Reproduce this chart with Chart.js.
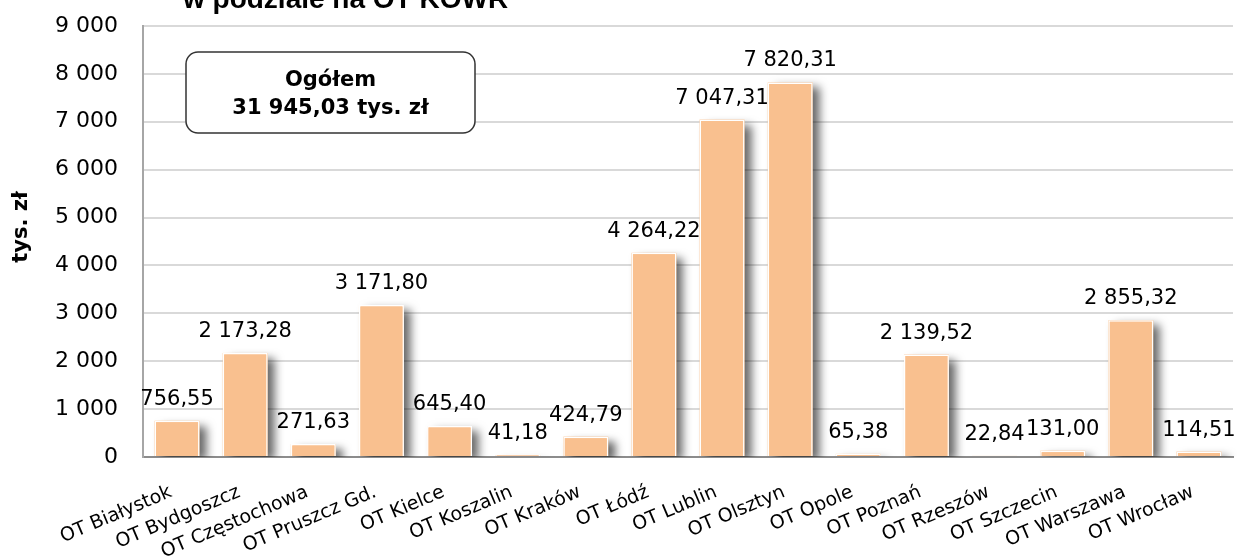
<!DOCTYPE html>
<html>
<head>
<meta charset="utf-8">
<script src="https://cdn.jsdelivr.net/npm/chart.js@4"></script>
<style>
  html, body { margin: 0; padding: 0; background: #fff; }
  #wrap { width: 1237px; height: 559px; position: relative; }
</style>
</head>
<body>
<div id="wrap"><canvas id="kowrChart"></canvas></div>
<script>
const categories = [
    'OT Białystok', 'OT Bydgoszcz', 'OT Częstochowa', 'OT Pruszcz Gd.',
    'OT Kielce', 'OT Koszalin', 'OT Kraków', 'OT Łódź',
    'OT Lublin', 'OT Olsztyn', 'OT Opole', 'OT Poznań',
    'OT Rzeszów', 'OT Szczecin', 'OT Warszawa', 'OT Wrocław'
];
const values = [
    756.55, 2173.28, 271.63, 3171.80,
    645.40, 41.18, 424.79, 4264.22,
    7047.31, 7820.31, 65.38, 2139.52,
    22.84, 131.00, 2855.32, 114.51
];
const totalValue = 31945.03;
const yTicks = [0, 1000, 2000, 3000, 4000, 5000, 6000, 7000, 8000, 9000];

const titleText = 'w podziale na OT KOWR';
const yAxisTitle = 'tys. zł';
const boxLine1 = 'Ogółem';

const FONT = "'DejaVu Sans', Verdana, sans-serif";
const BAR_COLOR = '#F9C08F';

// 1234,5 -> "1 234,50"
function fmtNum(v, decimals) {
    const parts = v.toFixed(decimals).split('.');
    const intPart = parts[0].replace(/\B(?=(\d{3})+(?!\d))/g, ' ');
    return parts[1] ? intPart + ',' + parts[1] : intPart;
}

// soft drop shadow behind every bar (the bar element clips its own drawing,
// so the shadow is painted separately underneath)
const barShadow = {
    id: 'barShadow',
    beforeDatasetsDraw(chart) {
        const ctx = chart.ctx;
        const area = chart.chartArea;
        const meta = chart.getDatasetMeta(0);
        ctx.save();
        ctx.beginPath();
        ctx.rect(area.left, area.top, area.right - area.left + 20, area.bottom - area.top);
        ctx.clip();
        ctx.shadowColor = 'rgba(0, 0, 0, 0.6)';
        ctx.shadowBlur = 9;
        ctx.shadowOffsetX = 7;
        ctx.shadowOffsetY = 5;
        ctx.fillStyle = BAR_COLOR;
        meta.data.forEach(bar => {
            const p = bar.getProps(['x', 'y', 'width', 'base'], true);
            ctx.fillRect(p.x - p.width / 2, p.y, p.width, p.base - p.y);
        });
        ctx.restore();
    }
};

const valueLabels = {
    id: 'valueLabels',
    afterDatasetsDraw(chart) {
        const ctx = chart.ctx;
        const meta = chart.getDatasetMeta(0);
        ctx.save();
        ctx.font = '21px ' + FONT;
        ctx.fillStyle = '#000';
        ctx.textAlign = 'center';
        ctx.textBaseline = 'alphabetic';
        meta.data.forEach((bar, i) => {
            ctx.fillText(fmtNum(values[i], 2), bar.x, bar.y - 16);
        });
        ctx.restore();
    }
};

const extras = {
    id: 'extras',
    afterDraw(chart) {
        const ctx = chart.ctx;
        ctx.save();

        // heading, mostly above the canvas top
        ctx.font = "bold 28px 'Liberation Sans', Arial, sans-serif";
        ctx.fillStyle = '#000';
        ctx.textAlign = 'left';
        ctx.textBaseline = 'alphabetic';
        ctx.fillText(titleText, 183, 8);

        // y axis unit
        ctx.save();
        ctx.translate(22, 227);
        ctx.rotate(-Math.PI / 2);
        ctx.font = 'bold 21px ' + FONT;
        ctx.textAlign = 'center';
        ctx.textBaseline = 'middle';
        ctx.fillText(yAxisTitle, 0, 0);
        ctx.restore();

        // total box
        const x = 186, y = 52, w = 289, h = 81, r = 12;
        ctx.beginPath();
        ctx.roundRect(x, y, w, h, r);
        ctx.fillStyle = '#fff';
        ctx.fill();
        ctx.lineWidth = 1.5;
        ctx.strokeStyle = '#333';
        ctx.stroke();

        ctx.fillStyle = '#000';
        ctx.font = 'bold 21px ' + FONT;
        ctx.textAlign = 'center';
        ctx.textBaseline = 'middle';
        ctx.fillText(boxLine1, x + w / 2, y + 29);
        ctx.fillText(fmtNum(totalValue, 2) + ' tys. zł', x + w / 2, y + 57);
        ctx.restore();
    }
};

new Chart(document.getElementById('kowrChart'), {
    type: 'bar',
    data: {
        labels: categories,
        datasets: [{
            data: values,
            backgroundColor: BAR_COLOR,
            borderColor: '#ffffff',
            borderWidth: 1.5,
            barPercentage: 0.66,
            categoryPercentage: 1
        }]
    },
    options: {
        responsive: true,
        maintainAspectRatio: false,
        animation: false,
        layout: { padding: { top: 26, right: 4, left: 0, bottom: 0 } },
        plugins: {
            legend: { display: false },
            tooltip: { enabled: false }
        },
        scales: {
            x: {
                grid: { display: false, drawTicks: false },
                border: { display: true, color: '#8c8c8c', width: 2 },
                ticks: {
                    color: '#000',
                    font: { family: FONT, size: 19 },
                    minRotation: 23,
                    maxRotation: 23,
                    padding: 24,
                    labelOffset: -6,
                    autoSkip: false
                },
                afterFit(scale) {
                    scale.height = 102;
                    scale.paddingLeft = 0;
                    scale.paddingRight = 0;
                }
            },
            y: {
                min: 0,
                max: 9000,
                afterBuildTicks(scale) {
                    scale.ticks = yTicks.map(v => ({ value: v }));
                },
                grid: { color: '#d9d9d9', lineWidth: 2, drawTicks: false },
                border: { display: true, color: '#a6a6a6', width: 2 },
                ticks: {
                    color: '#000',
                    font: { family: FONT, size: 22 },
                    padding: 25,
                    callback: v => fmtNum(v, 0)
                },
                afterFit(scale) {
                    scale.width = 143;
                    scale.paddingTop = 0;
                    scale.paddingBottom = 0;
                }
            }
        }
    },
    plugins: [barShadow, valueLabels, extras]
});
</script>
</body>
</html>
